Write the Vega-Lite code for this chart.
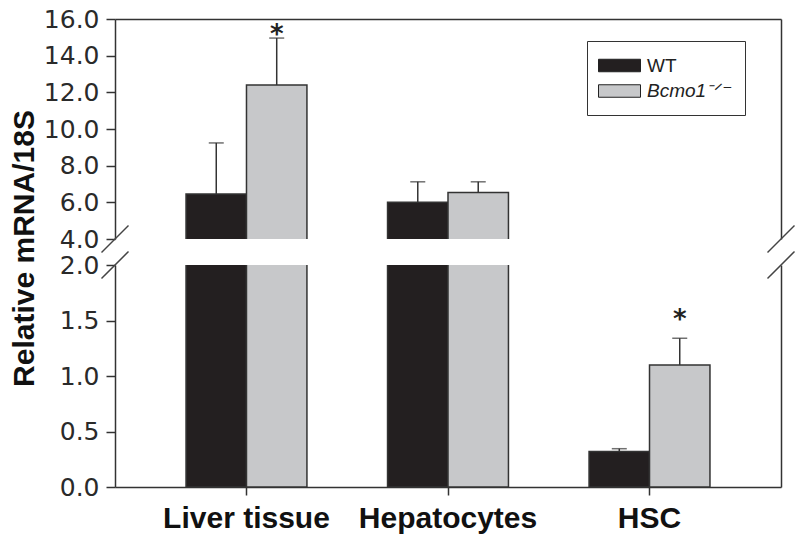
{
  "$schema": "https://vega.github.io/schema/vega-lite/v6.json",
  "padding": {"left": 8, "top": 7, "right": 5, "bottom": 2},
  "background": "white",
  "datasets": {
    "bars": [
      {"group": "Liver tissue", "genotype": "WT", "mean": 6.45, "err": 2.79, "star": null},
      {"group": "Liver tissue", "genotype": "Bcmo1-/-", "mean": 12.4, "err": 2.56, "star": 15.55},
      {"group": "Hepatocytes", "genotype": "WT", "mean": 6.0, "err": 1.12, "star": null},
      {"group": "Hepatocytes", "genotype": "Bcmo1-/-", "mean": 6.53, "err": 0.59, "star": null},
      {"group": "HSC", "genotype": "WT", "mean": 0.32, "err": 0.025, "star": null},
      {"group": "HSC", "genotype": "Bcmo1-/-", "mean": 1.1, "err": 0.24, "star": 1.57}
    ],
    "breaksUpper": [{"pos": 0, "level": 4}, {"pos": 1, "level": 4}],
    "breaksLower": [{"pos": 0, "level": 2}, {"pos": 1, "level": 2}]
  },
  "config": {
    "view": {"stroke": null},
    "font": "Liberation Sans",
    "axis": {
      "domainColor": "#333", "domainWidth": 1.5,
      "tickColor": "#333", "tickWidth": 1.5,
      "labelFont": "DejaVu Sans", "labelColor": "#2a2a2a", "grid": false, "labelOverlap": false
    }
  },
  "spacing": 26,
  "bounds": "flush",
  "resolve": {"legend": {"color": "independent"}},
  "vconcat": [
    {
      "width": 666, "height": 220,
      "layer": [
        {
          "data": {"name": "bars"},
          "encoding": {
            "x": {"field": "group", "type": "nominal", "sort": null,
                  "scale": {"paddingInner": 0.4, "paddingOuter": 0.3525},
                  "axis": {"orient": "top", "labels": false, "ticks": false, "title": null, "domain": true}},
            "xOffset": {"field": "genotype", "type": "nominal", "sort": ["WT", "Bcmo1-/-"], "scale": {"paddingInner": 0, "paddingOuter": 0}}
          },
          "layer": [
            {
              "mark": {"type": "bar", "clip": true, "stroke": "#333", "strokeWidth": 1.5},
              "encoding": {
                "y": {"field": "mean", "type": "quantitative",
                      "scale": {"domain": [4, 16], "nice": false, "zero": false},
                      "axis": {"orient": "left", "values": [4, 6, 8, 10, 12, 14, 16], "format": ".1f",
                               "labelFontSize": 25, "tickSize": 9, "labelPadding": 7, "title": null}},
                "y2": {"datum": 0},
                "color": {"field": "genotype", "type": "nominal",
                          "scale": {"domain": ["WT", "Bcmo1-/-"], "range": ["#231f20", "#c7c8ca"]},
                          "legend": {"orient": "none", "legendX": 472, "legendY": 22, "title": null,
                                     "symbolType": "M-2.1,-0.625H2.1V0.625H-2.1Z", "symbolSize": 400,
                                     "symbolOffset": 8,
                                     "symbolStrokeColor": "#222", "symbolStrokeWidth": 1, "symbolOpacity": 1,
                                     "labelFont": "Liberation Sans", "labelFontSize": 19, "labelColor": "#222",
                                     "labelOffset": 17, "padding": 14, "strokeColor": "#333", "fillColor": "white",
                                     "rowPadding": 4.5,
                                     "labelExpr": "datum.label == 'WT' ? 'WT' : 'Bcmo1⁻ᐟ⁻'",
                                     "labelFontStyle": {"expr": "datum.label == 'WT' ? 'normal' : 'italic'"}}}
              }
            },
            {
              "mark": {"type": "rule", "clip": true, "color": "#333", "strokeWidth": 1.5},
              "transform": [{"calculate": "datum.mean + datum.err", "as": "hi"}],
              "encoding": {
                "y": {"field": "mean", "type": "quantitative",
                      "axis": {"orient": "left", "values": [4, 6, 8, 10, 12, 14, 16], "format": ".1f",
                               "labelFontSize": 25, "tickSize": 9, "labelPadding": 7, "title": null}},
                "y2": {"field": "hi"}
              }
            },
            {
              "mark": {"type": "tick", "clip": true, "color": "#333", "thickness": 1.5, "size": 15},
              "transform": [{"calculate": "datum.mean + datum.err", "as": "hi"}],
              "encoding": {"y": {"field": "hi", "type": "quantitative",
                      "axis": {"orient": "left", "values": [4, 6, 8, 10, 12, 14, 16], "format": ".1f",
                               "labelFontSize": 25, "tickSize": 9, "labelPadding": 7, "title": null}}}
            },
            {
              "transform": [{"filter": "datum.star != null"}],
              "mark": {"type": "text", "text": "*", "clip": true, "font": "DejaVu Sans", "fontSize": 26, "fontWeight": "bold", "color": "#222", "baseline": "middle", "dy": 7.5},
              "encoding": {"y": {"field": "star", "type": "quantitative",
                      "axis": {"orient": "left", "values": [4, 6, 8, 10, 12, 14, 16], "format": ".1f",
                               "labelFontSize": 25, "tickSize": 9, "labelPadding": 7, "title": null}}}
            }
          ]
        },
        {
          "data": {"name": "breaksUpper"},
          "mark": {"type": "point", "shape": "M-1,1L1,-1", "size": 729, "filled": false, "stroke": "#444", "strokeWidth": 1.5, "opacity": 1},
          "encoding": {
            "x": {"field": "pos", "type": "quantitative", "scale": {"domain": [0, 1], "nice": false, "zero": false}, "axis": null},
            "y": {"field": "level", "type": "quantitative",
                  "axis": {"orient": "right", "labels": false, "ticks": false, "title": null, "domain": true}}
          }
        }
      ],
      "resolve": {"scale": {"x": "independent"}, "axis": {"x": "independent", "y": "independent"}}
    },
    {
      "width": 666, "height": 222,
      "layer": [
        {
          "data": {"name": "bars"},
          "encoding": {
            "x": {"field": "group", "type": "nominal", "sort": null,
                  "scale": {"paddingInner": 0.4, "paddingOuter": 0.3525},
                  "axis": {"orient": "bottom", "labelFont": "Liberation Sans", "labelFontSize": 30, "labelFontWeight": "bold", "labelColor": "#111",
                           "labelAngle": 0, "tickSize": 8, "labelPadding": 8, "title": null}},
            "xOffset": {"field": "genotype", "type": "nominal", "sort": ["WT", "Bcmo1-/-"], "scale": {"paddingInner": 0, "paddingOuter": 0}}
          },
          "layer": [
            {
              "mark": {"type": "bar", "clip": true, "stroke": "#333", "strokeWidth": 1.5},
              "encoding": {
                "y": {"field": "mean", "type": "quantitative",
                      "scale": {"domain": [0, 2], "nice": false, "zero": false},
                      "axis": {"orient": "left", "values": [0, 0.5, 1, 1.5, 2], "format": ".1f",
                               "labelFontSize": 25, "tickSize": 9, "labelPadding": 7,
                               "title": "Relative mRNA/18S", "titleFont": "Liberation Sans", "titleFontSize": 30,
                               "titleFontWeight": "bold", "titleColor": "#111", "titleX": -82, "titleY": -17,
                               "titleBaseline": "alphabetic", "titleAngle": 270}},
                "y2": {"datum": 0},
                "color": {"field": "genotype", "type": "nominal",
                          "scale": {"domain": ["WT", "Bcmo1-/-"], "range": ["#231f20", "#c7c8ca"]},
                          "legend": null}
              }
            },
            {
              "mark": {"type": "rule", "clip": true, "color": "#333", "strokeWidth": 1.5},
              "transform": [{"calculate": "datum.mean + datum.err", "as": "hi"}],
              "encoding": {
                "y": {"field": "mean", "type": "quantitative"},
                "y2": {"field": "hi"}
              }
            },
            {
              "mark": {"type": "tick", "clip": true, "color": "#333", "thickness": 1.5, "size": 15},
              "transform": [{"calculate": "datum.mean + datum.err", "as": "hi"}],
              "encoding": {"y": {"field": "hi", "type": "quantitative"}}
            },
            {
              "transform": [{"filter": "datum.star != null"}],
              "mark": {"type": "text", "text": "*", "clip": true, "font": "DejaVu Sans", "fontSize": 26, "fontWeight": "bold", "color": "#222", "baseline": "middle", "dy": 7.5},
              "encoding": {"y": {"field": "star", "type": "quantitative"}}
            }
          ]
        },
        {
          "data": {"name": "breaksLower"},
          "mark": {"type": "point", "shape": "M-1,1L1,-1", "size": 729, "filled": false, "stroke": "#444", "strokeWidth": 1.5, "opacity": 1},
          "encoding": {
            "x": {"field": "pos", "type": "quantitative", "scale": {"domain": [0, 1], "nice": false, "zero": false}, "axis": null},
            "y": {"field": "level", "type": "quantitative",
                  "axis": {"orient": "right", "labels": false, "ticks": false, "title": null, "domain": true}}
          }
        }
      ],
      "resolve": {"scale": {"x": "independent"}, "axis": {"x": "independent", "y": "independent"}}
    }
  ]
}
